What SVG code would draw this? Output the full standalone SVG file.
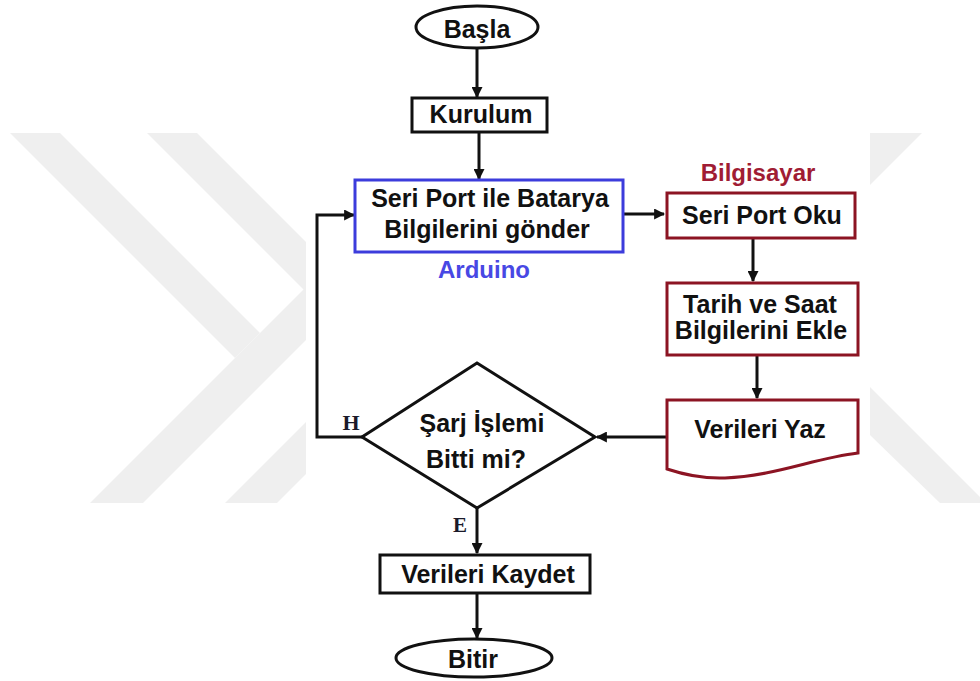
<svg xmlns="http://www.w3.org/2000/svg" width="980" height="681" viewBox="0 0 980 681">
<defs>
<style>
.t{font-family:"Liberation Sans",Arial,sans-serif;font-weight:bold;font-size:25px;fill:#111;text-anchor:middle}
.lab{font-family:"Liberation Serif","Times New Roman",serif;font-weight:bold;fill:#1a1a2a;text-anchor:middle}
.box{fill:#fff;stroke:#111;stroke-width:3}
.blue{fill:#fff;stroke:#3c3cdc;stroke-width:3}
.red{fill:#fff;stroke:#8c1423;stroke-width:3}
.conn{fill:none;stroke:#111;stroke-width:3}
.wm{fill:#efefef}
</style>
<marker id="ah" viewBox="0 0 10 10" refX="9" refY="5" markerWidth="11" markerHeight="11" markerUnits="userSpaceOnUse" orient="auto">
<path d="M0,0 L10,5 L0,10 z" fill="#111"/>
</marker>
</defs>
<rect width="980" height="681" fill="#fff"/>
<g id="watermark">
<polygon class="wm" points="10,133 60,133 260,333 235,358"/>
<polygon class="wm" points="90,503 143,503 306,340 306,287"/>
<polygon class="wm" points="147,133 197,133 306,242 306,292"/>
<polygon class="wm" points="225,503 277,503 306,474 306,422"/>
<polygon class="wm" points="870,133 922,133 870,185"/>
<polygon class="wm" points="870,387 980,497 980,503 940,503 870,435"/>
</g>
<g id="connectors">
<path class="conn" d="M477,49 V97" marker-end="url(#ah)"/>
<path class="conn" d="M479,132 V179" marker-end="url(#ah)"/>
<path class="conn" d="M623,214 H664" marker-end="url(#ah)"/>
<path class="conn" d="M753,238 V281" marker-end="url(#ah)"/>
<path class="conn" d="M757,355 V398" marker-end="url(#ah)"/>
<path class="conn" d="M667,437 H597" marker-end="url(#ah)"/>
<path class="conn" d="M362,437 H317 V215 H354" marker-end="url(#ah)"/>
<path class="conn" d="M477,508 V553" marker-end="url(#ah)"/>
<path class="conn" d="M477,593 V638" marker-end="url(#ah)"/>
</g>
<g id="basla">
<ellipse class="box" cx="477" cy="27" rx="61" ry="21"/>
<text class="t" x="477" y="38">Başla</text>
</g>
<g id="kurulum">
<rect class="box" x="412" y="98" width="135" height="34"/>
<text class="t" x="481" y="123">Kurulum</text>
</g>
<g id="arduino">
<rect class="blue" x="355" y="180" width="268" height="72"/>
<text class="t" x="490" y="207">Seri Port ile Batarya</text>
<text class="t" x="487" y="238">Bilgilerini gönder</text>
<text class="t" x="484" y="278" style="fill:#4848e4;font-size:24px">Arduino</text>
</g>
<g id="seriportoku">
<text class="t" x="758" y="181" style="fill:#a01c34;font-size:24px">Bilgisayar</text>
<rect class="red" x="667" y="193" width="188" height="45"/>
<text class="t" x="762" y="224">Seri Port Oku</text>
</g>
<g id="tarih">
<rect class="red" x="667" y="283" width="191" height="72"/>
<text class="t" x="760" y="313">Tarih ve Saat</text>
<text class="t" x="761" y="339">Bilgilerini Ekle</text>
</g>
<g id="veriyaz">
<path class="red" d="M667,400 H858 V453 C815,458 775,476 725,478 C700,479 682,474 667,469 Z"/>
<text class="t" x="760" y="438">Verileri Yaz</text>
</g>
<g id="karar">
<polygon class="box" points="477,363 595,437 477,508 362,437"/>
<text class="t" x="482" y="432">Şarj İşlemi</text>
<text class="t" x="476" y="468">Bitti mi?</text>
<text class="lab" x="351" y="430" font-size="22">H</text>
<text class="lab" x="460" y="532" font-size="21">E</text>
</g>
<g id="kaydet">
<rect class="box" x="380" y="555" width="210" height="38"/>
<text class="t" x="488" y="583">Verileri Kaydet</text>
</g>
<g id="bitir">
<ellipse class="box" cx="474" cy="658" rx="78" ry="19"/>
<text class="t" x="473" y="668">Bitir</text>
</g>
</svg>
